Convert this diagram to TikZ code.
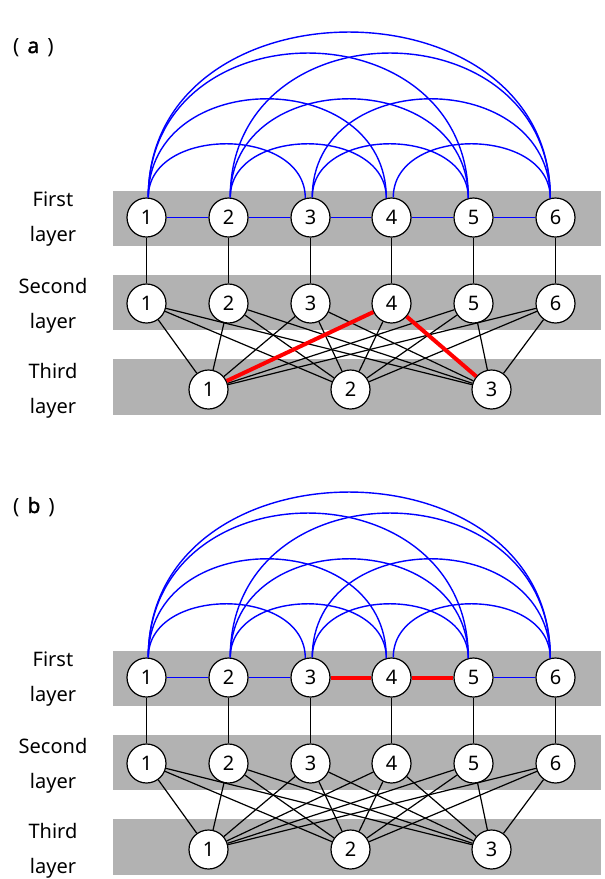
\documentclass[tikz,border=0pt]{standalone}
\usepackage{fontspec}
\setmainfont{Noto Sans}
\newfontfamily\boldsans[FakeBold=1.6]{Noto Sans}
\definecolor{bandgray}{RGB}{178,178,178}
\definecolor{linkblue}{RGB}{0,0,255}
\begin{document}
\begin{tikzpicture}[x=1pt,y=-1pt,
  vtx/.style={circle,draw=black,fill=white,line width=1.2pt,minimum size=39pt,inner sep=0pt,font=\fontsize{20}{24}\selectfont},
  lbl/.style={anchor=base,inner sep=0pt,font=\fontsize{20}{24}\selectfont},
  plink/.style={draw=linkblue,line width=1.4pt},
  seqlink/.style={draw=linkblue,line width=1.8pt},
  vlink/.style={draw=black,line width=1.2pt},
  hot/.style={draw=red,line width=4pt},
]
\path[use as bounding box] (0,0) rectangle (605,879);
\foreach \p/\dy in {a/0,b/460} {
  % bands
  \fill[bandgray] (113,{190.5+\dy}) rectangle (601,{245.5+\dy});
  \fill[bandgray] (113,{274.5+\dy}) rectangle (601,{329.5+\dy});
  \fill[bandgray] (113,{359+\dy}) rectangle (601,{415+\dy});
  % panel label
  \node[anchor=base west,inner sep=0pt,font=\fontsize{21}{24}\selectfont] (\p lab) at (13,{53+\dy}) {(\hspace{8pt}{\boldsans\p}\hspace{8pt})};
  % layer labels
  \node[lbl] (\p l1a) at (53,{206.7+\dy}) {First};
  \node[lbl] (\p l1b) at (53,{241.7+\dy}) {layer};
  \node[lbl] (\p l2a) at (53,{293.3+\dy}) {Second};
  \node[lbl] (\p l2b) at (53,{328.3+\dy}) {layer};
  \node[lbl] (\p l3a) at (53,{378.3+\dy}) {Third};
  \node[lbl] (\p l3b) at (53,{413.3+\dy}) {layer};
  % nodes
  \foreach \i/\x in {1/146.5,2/228.5,3/310.5,4/391.5,5/473.5,6/555.5} {
    \node[vtx] (\p f\i) at (\x,{217.5+\dy}) {\i};
    \node[vtx] (\p s\i) at (\x,{303.5+\dy}) {\i};
  }
  \foreach \j/\x in {1/208.5,2/350.5,3/491.5}
    \node[vtx] (\p t\j) at (\x,{389.5+\dy}) {\j};
  % arcs
  \foreach \i/\j/\h in {1/3/72,2/4/72,3/5/72,4/6/72,1/4/132,2/5/132,3/6/132,1/5/193,2/6/193,1/6/221}
    \draw[plink] (\p f\i.85) .. controls +(0,-\h) and +(0,-\h) .. (\p f\j.105);
  % vertical links
  \foreach \i in {1,...,6}
    \draw[vlink] (\p f\i) -- (\p s\i);
  % second to third
  \foreach \i in {1,...,6}
    \foreach \j in {1,2,3}
      \draw[vlink] (\p s\i) -- (\p t\j);
}
% first layer sequences
\draw[seqlink] (af1) -- (af2);
\draw[seqlink] (af2) -- (af3);
\draw[seqlink] (af3) -- (af4);
\draw[seqlink] (af4) -- (af5);
\draw[seqlink] (af5) -- (af6);
\draw[seqlink] (bf1) -- (bf2);
\draw[seqlink] (bf2) -- (bf3);
\draw[seqlink] (bf5) -- (bf6);
% highlighted links
\draw[hot] (as4) -- (at1);
\draw[hot] (as4) -- (at3);
\draw[hot] (bf3) -- (bf4);
\draw[hot] (bf4) -- (bf5);
\end{tikzpicture}
\end{document}
